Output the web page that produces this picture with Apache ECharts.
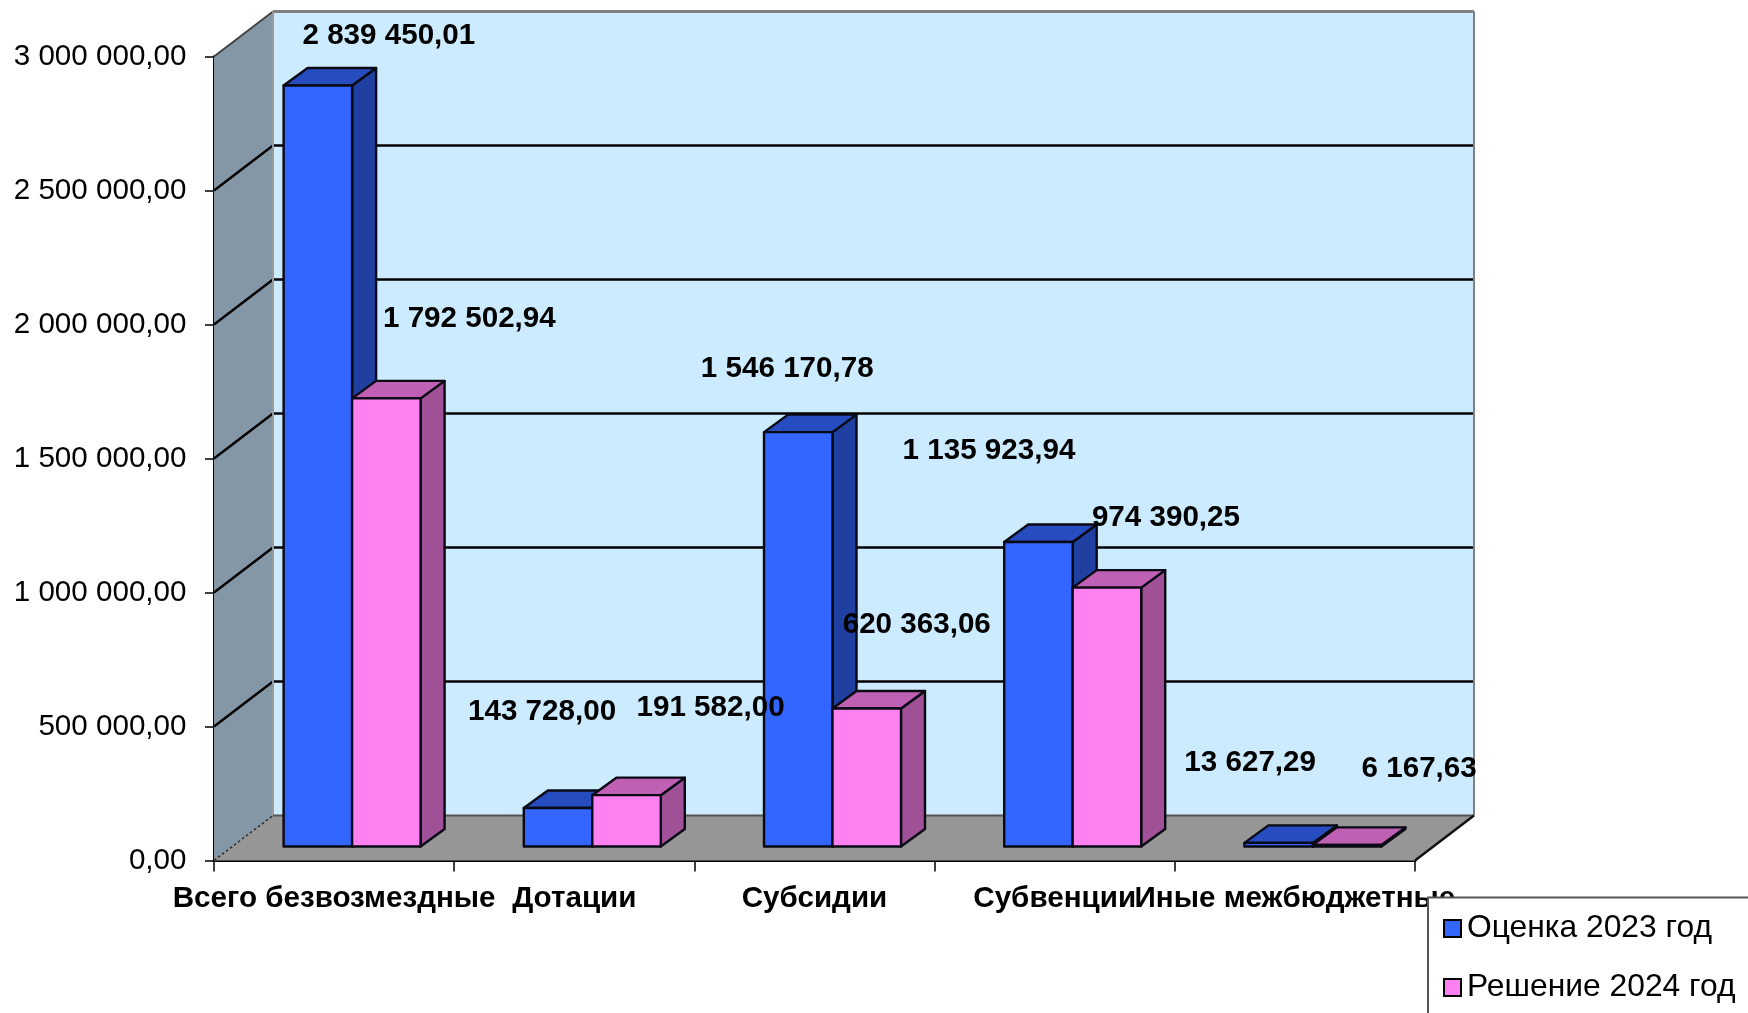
<!DOCTYPE html>
<html><head><meta charset="utf-8">
<style>html,body{margin:0;padding:0;background:#fff;overflow:hidden}#c{width:1748px;height:1013px}</style>
<script src="https://cdn.jsdelivr.net/npm/echarts@6/dist/echarts.min.js"></script>
</head><body><div id="c"></div>
<script>
var categories = ['Всего безвозмездные', 'Дотации', 'Субсидии', 'Субвенции', 'Иные межбюджетные'];
var seriesNames = ['Оценка 2023 год', 'Решение 2024 год'];
// bar heights
var estimate2023 = [2839450.01, 143728.00, 1546170.78, 1135923.94, 13627.29];
var decision2024 = [1672000, 191582.00, 515000, 966000, 6167.63];
// printed data labels
var labels2023 = ['2 839 450,01', '143 728,00', '1 546 170,78', '1 135 923,94', '13 627,29'];
var labels2024 = ['1 792 502,94', '191 582,00', '620 363,06', '974 390,25', '6 167,63'];
var yTicks = [0, 500000, 1000000, 1500000, 2000000, 2500000, 3000000];
// label offset from bar-top centre, px
var labelOffset2023 = [[71,-50],[-16,-96],[-11,-63],[-49.5,-91],[-28.5,-80]];
var labelOffset2024 = [[83,-80],[84,-87],[50,-84],[59,-70],[72,-76.5]];

var DX = 59, DY = 45, FX = 18, FY = 14, BW = 68.5, BDX = 24, BDY = 17.5;
var FONT = '"Liberation Sans", Arial, sans-serif';
var chart = echarts.init(document.getElementById('c'), null, {renderer:'canvas'});

function poly(pts, fill, stroke, lw, z){
  return {type:'polygon', z2:z||0, shape:{points:pts}, style:{fill:fill, stroke:stroke||null, lineWidth:lw||0, lineJoin:'round'}};
}
function line(x1,y1,x2,y2,stroke,lw,z,dash){
  return {type:'line', z2:z||1, shape:{x1:x1,y1:y1,x2:x2,y2:y2}, style:{stroke:stroke,lineWidth:lw,lineDash:dash||null}};
}
function renderWalls(params, api){
  var r = params.coordSys, L=r.x, R=r.x+r.width, T=r.y, B=r.y+r.height, ch=[];
  ch.push(poly([[L,T],[L+DX,T-DY],[L+DX,B-DY],[L,B]],'#8497A6'));
  ch.push(poly([[L+DX,T-DY],[R+DX,T-DY],[R+DX,B-DY],[L+DX,B-DY]],'#CCEBFF'));
  ch.push(poly([[L,B],[L+DX,B-DY],[R+DX,B-DY],[R,B]],'#969696'));
  yTicks.forEach(function(t){
    if(t===0||t===3000000) return;
    var y = api.coord([0,t])[1];
    ch.push(line(L,y,L+DX,y-DY,'#000',2.4));
    ch.push(line(L+DX,y-DY,R+DX,y-DY,'#000',2.4));
  });
  ch.push(line(L,T,L+DX,T-DY,'#444',2,2));
  ch.push(line(L+DX,T-DY,R+DX,T-DY,'#808080',3,2));
  ch.push(line(L+DX,T-DY,L+DX,B-DY,'#9a9a9a',2,2));
  ch.push(line(R+DX,T-DY,R+DX,B-DY,'#808080',2,2));
  ch.push(line(L+DX,B-DY,R+DX,B-DY,'#555',2,2));
  ch.push(line(L,B,L+DX,B-DY,'#333',1.5,2,[3,2]));
  ch.push(line(R,B,R+DX,B-DY,'#111',2.4,2));
  return {type:'group', children:ch};
}
function barRenderer(idx, front, top, side){
  return function(params, api){
    var p = api.coord([api.value(0), api.value(1)]);
    var base = api.coord([api.value(0), 0]);
    var x0 = p[0]+FX+(idx-1)*BW, x1 = x0+BW, yT = p[1]-FY, yB = base[1]-FY;
    var E = '#0a0a14', W = 2.4;
    return {type:'group', children:[
      poly([[x1,yT],[x1+BDX,yT-BDY],[x1+BDX,yB-BDY],[x1,yB]],side,E,W),
      poly([[x0,yT],[x0+BDX,yT-BDY],[x1+BDX,yT-BDY],[x1,yT]],top,E,W),
      poly([[x0,yT],[x1,yT],[x1,yB],[x0,yB]],front,E,W)
    ]};
  };
}
function labelRenderer(idx, texts, offsets){
  return function(params, api){
    var i = params.dataIndex, p = api.coord([api.value(0), api.value(1)]);
    var cx = p[0]+FX+(idx-1)*BW+BW/2, yT = p[1]-FY;
    return {type:'text', z2:50, style:{x:cx+offsets[i][0], y:yT+offsets[i][1], text:texts[i], fill:'#000',
      font:'bold 29.6px '+FONT, align:'center', verticalAlign:'middle'}};
  };
}
function toData(a){ return a.map(function(v,i){return [i,v];}); }

chart.setOption({
  animation:false,
  backgroundColor:'#fff',
  grid:{left:214, top:56.5, width:1201, height:804, containLabel:false, show:false},
  xAxis:{type:'category', data:categories, boundaryGap:true,
    axisLine:{show:true, lineStyle:{color:'#000',width:3}},
    axisTick:{show:true, length:11, alignWithLabel:false, lineStyle:{color:'#000',width:1.5}},
    axisLabel:{interval:0, hideOverlap:false, color:'#000', fontFamily:FONT, fontWeight:'bold', fontSize:29.6, margin:23.5, lineHeight:30},
    splitLine:{show:false}},
  yAxis:{type:'value', min:0, max:3000000, interval:500000,
    axisLine:{show:true, lineStyle:{color:'#000',width:3}},
    axisTick:{show:true, length:9, lineStyle:{color:'#000',width:1.5}},
    axisLabel:{color:'#000', fontFamily:FONT, fontSize:29.6, margin:27.5,
      formatter:function(v){ return String(v).replace(/\B(?=(\d{3})+$)/g,' ')+',00'; }},
    splitLine:{show:false}},
  legend:{orient:'vertical', left:1428, top:897.5, height:500, itemWidth:17, itemHeight:17, itemGap:27,
    padding:[15,60,60,15], backgroundColor:'#fff', borderColor:'#555', borderWidth:2,
    data:seriesNames.map(function(n){return {name:n, icon:'rect'};}),
    textStyle:{color:'#000', fontFamily:FONT, fontSize:31.8, padding:[4,0,0,1]}, selectedMode:false,
    itemStyle:{borderColor:'#000', borderWidth:2}},
  tooltip:{show:false},
  series:[
    {type:'custom', name:'walls', coordinateSystem:'cartesian2d', clip:false, z:1, silent:true, data:[[0,0]], renderItem:renderWalls},
    {type:'custom', name:seriesNames[0], coordinateSystem:'cartesian2d', clip:false, z:2, silent:true,
      itemStyle:{color:'#3366FF'}, data:toData(estimate2023), encode:{x:0,y:1},
      renderItem:barRenderer(0,'#3366FF','#264CBF','#1F40A0')},
    {type:'custom', name:seriesNames[1], coordinateSystem:'cartesian2d', clip:false, z:3, silent:true,
      itemStyle:{color:'#FF80F0'}, data:toData(decision2024), encode:{x:0,y:1},
      renderItem:barRenderer(1,'#FF80F0','#BF60B4','#A05096')},
    {type:'custom', name:'labels2023', coordinateSystem:'cartesian2d', clip:false, z:5, silent:true, data:toData(estimate2023), renderItem:labelRenderer(0,labels2023,labelOffset2023)},
    {type:'custom', name:'labels2024', coordinateSystem:'cartesian2d', clip:false, z:5, silent:true, data:toData(decision2024), renderItem:labelRenderer(1,labels2024,labelOffset2024)}
  ]
});
</script></body></html>
